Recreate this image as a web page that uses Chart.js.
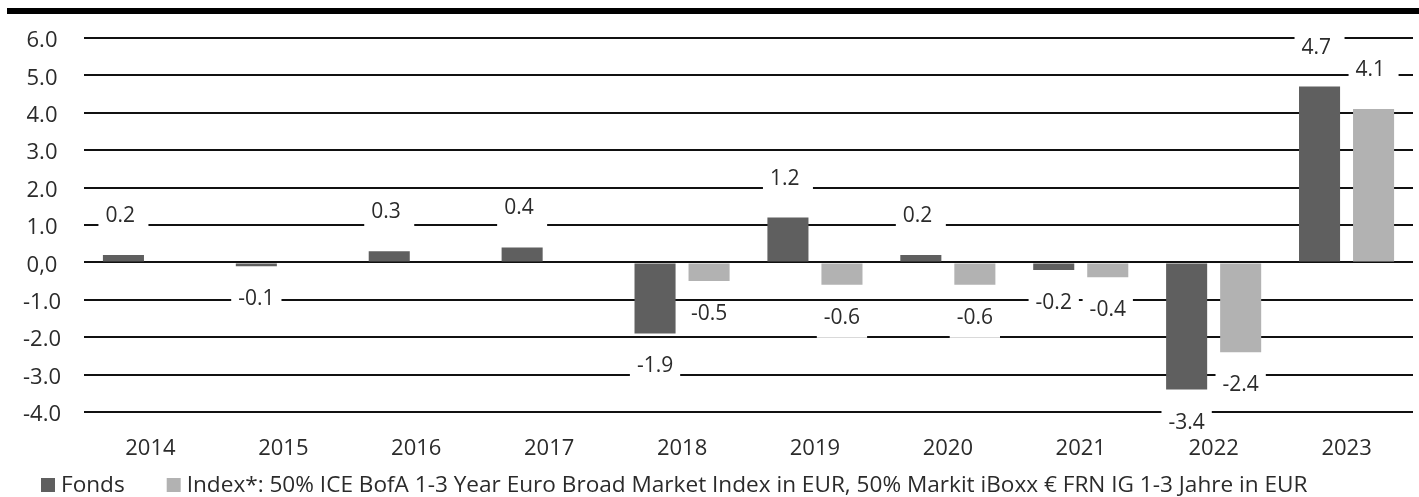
<!DOCTYPE html>
<html>
<head>
<meta charset="utf-8">
<script src="https://cdn.jsdelivr.net/npm/chart.js@4.4.0/dist/chart.umd.min.js"></script>
<style>
  html, body { margin: 0; padding: 0; background: #fff; }
  #wrap { position: relative; width: 1419px; height: 497px; }
</style>
</head>
<body>
<div id="wrap"><canvas id="perfChart"></canvas></div>
<script>
// Jahreswerte in %
const years = ['2014', '2015', '2016', '2017', '2018', '2019', '2020', '2021', '2022', '2023'];
const fondsValues = [0.2, -0.1, 0.3, 0.4, -1.9, 1.2, 0.2, -0.2, -3.4, 4.7];
const indexValues = [null, null, null, null, -0.5, -0.6, -0.6, -0.4, -2.4, 4.1];
const seriesNames = ['Fonds', 'Index*: 50% ICE BofA 1-3 Year Euro Broad Market Index in EUR, 50% Markit iBoxx € FRN IG 1-3 Jahre in EUR'];
const seriesColors = ['#5f5f5f', '#b2b2b2'];

Chart.defaults.font.family = '"Open Sans", "Noto Sans", sans-serif';
Chart.defaults.color = '#2b2b2b';

// dicker schwarzer Balken oben
const topRule = {
    id: 'topRule',
    beforeDraw(chart) {
        const ctx = chart.ctx;
        ctx.save();
        ctx.fillStyle = '#000';
        ctx.fillRect(7, 8, chart.width - 7, 6);
        ctx.restore();
    }
};

// Wertbeschriftungen mit weissem Hintergrund
const barLabels = {
    id: 'barLabels',
    afterDatasetsDraw(chart) {
        const ctx = chart.ctx;
        ctx.save();
        ctx.font = '21px "Open Sans"';
        ctx.textBaseline = 'alphabetic';
        chart.data.datasets.forEach((ds, i) => {
            chart.getDatasetMeta(i).data.forEach((bar, j) => {
                const v = ds.data[j];
                if (v === null) return;
                const text = v.toFixed(1);
                const tw = ctx.measureText(text).width;
                const cy = v >= 0 ? bar.y - 40 : bar.y + 32;
                const bw = Math.max(50, tw + 14);
                const left = bar.x - bw / 2;
                ctx.fillStyle = '#fff';
                ctx.fillRect(left, cy - 12, bw, 33);
                ctx.fillStyle = '#2b2b2b';
                ctx.fillText(text, left + 7, cy + 7);
            });
        });
        ctx.restore();
    }
};

// Legende unten links
const bottomLegend = {
    id: 'bottomLegend',
    afterDraw(chart) {
        const ctx = chart.ctx;
        ctx.save();
        ctx.font = '22.6px "Open Sans"';
        ctx.textBaseline = 'alphabetic';
        let x = 41;
        chart.data.datasets.forEach((ds) => {
            ctx.fillStyle = ds.backgroundColor;
            ctx.fillRect(x, 478, 14, 14);
            ctx.fillStyle = '#2b2b2b';
            ctx.fillText(ds.label, x + 20, 492);
            x += 20 + ctx.measureText(ds.label).width + 42;
        });
        ctx.restore();
    }
};

const perfChart = new Chart(document.getElementById('perfChart'), {
    type: 'bar',
    data: {
        labels: years,
        datasets: [{
            label: seriesNames[0],
            data: fondsValues,
            backgroundColor: seriesColors[0],
            categoryPercentage: 0.813,
            barPercentage: 0.76
        }, {
            label: seriesNames[1],
            data: indexValues,
            backgroundColor: seriesColors[1],
            categoryPercentage: 0.813,
            barPercentage: 0.76
        }]
    },
    options: {
        responsive: true,
        maintainAspectRatio: false,
        animation: false,
        layout: { padding: { left: 0, right: 6, top: 38, bottom: 38 } },
        plugins: {
            legend: { display: false },
            tooltip: { enabled: false }
        },
        scales: {
            x: {
                grid: { display: false },
                border: { display: false },
                ticks: { font: { size: 22 }, padding: 16, z: 1 },
                afterFit(scale) { scale.height = 47; }
            },
            y: {
                min: -4,
                max: 6,
                grid: { color: '#111', lineWidth: 2, drawTicks: false },
                border: { display: false },
                ticks: {
                    stepSize: 1,
                    font: { size: 22 },
                    padding: 23,
                    crossAlign: 'center',
                    labelOffset: 3,
                    callback: (v) => v === 0 ? '0,0' : v.toFixed(1)
                },
                afterFit(scale) { scale.width = 84; }
            }
        }
    },
    plugins: [topRule, barLabels, bottomLegend]
});
</script>
</body>
</html>
